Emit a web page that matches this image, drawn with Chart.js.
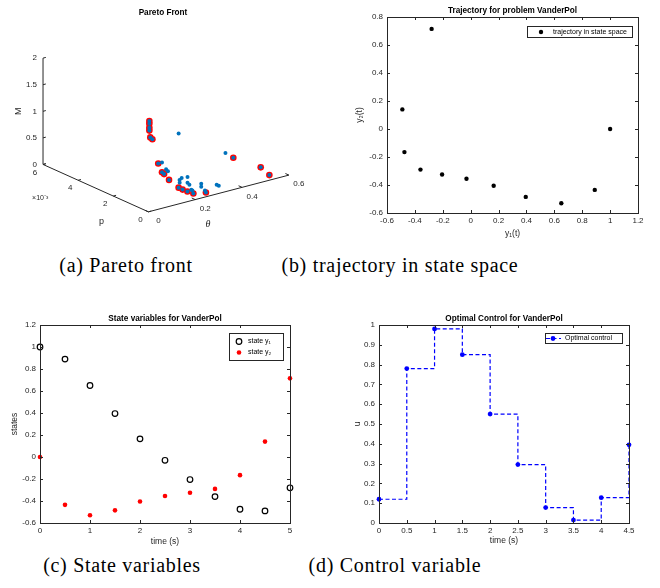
<!DOCTYPE html>
<html>
<head>
<meta charset="utf-8">
<script src="https://cdn.jsdelivr.net/npm/chart.js@4.4.1/dist/chart.umd.min.js"></script>
<style>
  body { margin: 0; background: #fff; width: 660px; height: 588px; position: relative; overflow: hidden; }
  canvas { position: absolute; }
  .cap { position: absolute; font-family: "Liberation Serif", serif; font-size: 20px; letter-spacing: 0.7px;
         color: #000; transform: translate(-50%, -50%); white-space: nowrap; }
</style>
</head>
<body>
<canvas id="pa" width="330" height="240" style="left:0;top:0"></canvas>
<canvas id="pb" width="330" height="240" style="left:330px;top:0"></canvas>
<canvas id="pc" width="330" height="240" style="left:0;top:310px"></canvas>
<canvas id="pd" width="330" height="240" style="left:330px;top:310px"></canvas>
<div class="cap" style="left:126px;top:265px">(a) Pareto front</div>
<div class="cap" style="left:400px;top:265px">(b) trajectory in state space</div>
<div class="cap" style="left:122px;top:565px">(c) State variables</div>
<div class="cap" style="left:395px;top:565px">(d) Control variable</div>
<script>
// ---- data ----

// pareto front (a): theta, p (in units of 1e-3) and M for each solution
// solutions that are on the front (red rings)
var frontTheta = [0.079, 0.079, 0.079, 0.079, 0.083, 0.092, 0.102, 0.118, 0.127, 0.133, 0.159, 0.176, 0.189, 0.207, 0.253, 0.370, 0.487, 0.524];
var frontP     = [1.0, 1.0, 1.0, 1.0, 1.0, 1.0, 0.8, 0.8, 0.8, 0.6, 0.4, 0.4, 0.3, 0.2, 0.1, 0.1, 0.1, 0.1];
var frontM     = [1.470, 1.415, 1.342, 1.288, 1.156, 1.110, 0.673, 0.491, 0.445, 0.358, 0.212, 0.156, 0.120, 0.078, 0.057, 0.577, 0.261, 0.073];
// the other solutions (blue only)
var otherTheta = [0.204, 0.133, 0.143, 0.151, 0.193, 0.202, 0.186, 0.227, 0.212, 0.220, 0.213, 0.218, 0.263, 0.263, 0.264, 0.314, 0.323, 0.344];
var otherP     = [1.0, 1.0, 0.9, 0.9, 0.8, 0.8, 0.7, 0.8, 0.6, 0.6, 0.4, 0.4, 0.5, 0.5, 0.3, 0.3, 0.3, 0.2];
var otherM     = [1.089, 0.625, 0.502, 0.456, 0.259, 0.285, 0.228, 0.275, 0.213, 0.167, 0.113, 0.090, 0.151, 0.096, 0.051, 0.103, 0.075, 0.683];
var thetaTicks = [0, 0.2, 0.4, 0.6];
var pTicks = [0, 2, 4, 6];
var mTicks = [0, 0.5, 1, 1.5, 2];

// VanderPol states (b, c) and control (d)
var tStates = [0, 0.5, 1, 1.5, 2, 2.5, 3, 3.5, 4, 4.5, 5];
var y1 = [1, 0.89, 0.65, 0.395, 0.165, -0.03, -0.205, -0.36, -0.475, -0.49, -0.28];
var y2 = [0, -0.435, -0.53, -0.485, -0.405, -0.355, -0.325, -0.29, -0.165, 0.14, 0.715];
var tControl = [0, 0.5, 1, 1.5, 2, 2.5, 3, 3.5, 4, 4.5];
var uControl = [0.12, 0.78, 0.98, 0.85, 0.55, 0.295, 0.078, 0.015, 0.128, 0.395];

var bXTicks = [-0.6, -0.4, -0.2, 0, 0.2, 0.4, 0.6, 0.8, 1, 1.2];
var bYTicks = [-0.6, -0.4, -0.2, 0, 0.2, 0.4, 0.6, 0.8];
var cXTicks = [0, 1, 2, 3, 4, 5];
var cYTicks = [-0.6, -0.4, -0.2, 0, 0.2, 0.4, 0.6, 0.8, 1, 1.2];
var dXTicks = [0, 0.5, 1, 1.5, 2, 2.5, 3, 3.5, 4, 4.5];
var dYTicks = [0, 0.1, 0.2, 0.3, 0.4, 0.5, 0.6, 0.7, 0.8, 0.9, 1];

var AXIS = '#262626';
var SANS = '"Liberation Sans", Arial, sans-serif';

function pts(xs, ys) {
  return xs.map(function(x, i) { return { x: x, y: ys[i] }; });
}

function marker(ctx, ds, x, y) {
  ctx.beginPath();
  ctx.arc(x, y, ds.pointRadius, 0, Math.PI * 2);
  ctx.fillStyle = ds.pointBackgroundColor;
  ctx.fill();
  if (ds.pointBorderWidth) {
    ctx.lineWidth = ds.pointBorderWidth;
    ctx.strokeStyle = ds.pointBorderColor;
    ctx.stroke();
  }
}

// matlab style box: frame, inward ticks on all sides, title and a boxed legend
var matlabBox = {
  id: 'matlabBox',
  afterDraw: function(chart, args, opts) {
    var ctx = chart.ctx, a = chart.chartArea;
    var xs = chart.scales.x, ys = chart.scales.y;
    ctx.save();
    ctx.strokeStyle = AXIS;
    ctx.lineWidth = 1;
    ctx.beginPath();
    xs.ticks.forEach(function(t) {
      var px = Math.round(xs.getPixelForValue(t.value)) + 0.5;
      ctx.moveTo(px, a.bottom); ctx.lineTo(px, a.bottom - 3);
      ctx.moveTo(px, a.top); ctx.lineTo(px, a.top + 3);
    });
    ys.ticks.forEach(function(t) {
      var py = Math.round(ys.getPixelForValue(t.value)) + 0.5;
      ctx.moveTo(a.left, py); ctx.lineTo(a.left + 3, py);
      ctx.moveTo(a.right, py); ctx.lineTo(a.right - 3, py);
    });
    ctx.stroke();
    ctx.strokeRect(Math.round(a.left) + 0.5, Math.round(a.top) + 0.5,
                   Math.round(a.right - a.left), Math.round(a.bottom - a.top));

    ctx.fillStyle = '#000';
    ctx.font = 'bold 8.2px ' + SANS;
    ctx.textAlign = 'center';
    ctx.textBaseline = 'middle';
    ctx.fillText(opts.title, (a.left + a.right) / 2, a.top - 6);

    // legend
    var lg = opts.legend, sets = chart.data.datasets;
    var h = sets.length * lg.rowH + 2 * lg.pad;
    var x0 = Math.round(a.right - lg.right - lg.width), y0 = Math.round(a.top + lg.top);
    ctx.fillStyle = '#fff';
    ctx.fillRect(x0, y0, lg.width, h);
    ctx.strokeStyle = AXIS;
    ctx.lineWidth = 1;
    ctx.strokeRect(x0 + 0.5, y0 + 0.5, lg.width, h);
    ctx.font = '7px ' + SANS;
    ctx.textAlign = 'left';
    sets.forEach(function(ds, i) {
      var cy = y0 + lg.pad + lg.rowH * (i + 0.5) + 0.5;
      if (ds.showLine) {
        ctx.save();
        ctx.strokeStyle = ds.borderColor;
        ctx.lineWidth = ds.borderWidth;
        ctx.setLineDash(ds.borderDash);
        ctx.beginPath();
        ctx.moveTo(x0 + lg.lineFrom, cy); ctx.lineTo(x0 + lg.lineTo, cy);
        ctx.stroke();
        ctx.restore();
      }
      marker(ctx, ds, x0 + lg.markerX, cy);
      ctx.fillStyle = '#000';
      ctx.fillText(ds.label, x0 + lg.textX, cy);
    });
    ctx.restore();
  }
};

function linAxis(ticksArr, pos, size, titleText, titlePad) {
  return {
    type: 'linear',
    position: pos,
    min: ticksArr[0],
    max: ticksArr[ticksArr.length - 1],
    grid: { display: false, drawTicks: false },
    border: { display: false },
    afterBuildTicks: function(s) { s.ticks = ticksArr.map(function(v) { return { value: v }; }); },
    afterFit: function(s) { if (pos === 'left') s.width = size; else s.height = size; },
    ticks: {
      color: AXIS, font: { family: SANS, size: 8 },
      padding: pos === 'left' ? 4 : 3,
      autoSkip: false, maxRotation: 0,
      callback: function(v) { return String(v); }
    },
    title: { display: true, text: titleText, color: AXIS, font: { family: SANS, size: 8.5 }, padding: titlePad }
  };
}

function baseOptions(pad, xAxis, yAxis, box) {
  return {
    responsive: false, animation: false, events: [],
    layout: { padding: pad },
    plugins: { legend: { display: false }, tooltip: { enabled: false }, matlabBox: box },
    scales: { x: xAxis, y: yAxis }
  };
}

// ---- (b) trajectory in state space ----
new Chart(document.getElementById('pb'), {
  type: 'scatter',
  data: { datasets: [{
    label: 'trajectory in state space', data: pts(y1, y2), clip: false,
    pointRadius: 2.2, pointBackgroundColor: '#000', pointBorderColor: '#000', pointBorderWidth: 0
  }] },
  options: baseOptions({ left: 0, top: 17, right: 22, bottom: 0 },
    linAxis(bXTicks, 'bottom', 27, 'y\u2081(t)', { top: 0, bottom: 1.6 }),
    linAxis(bYTicks, 'left', 57, 'y\u2082(t)', { top: 24.6, bottom: 0 }),
    { title: 'Trajectory for problem VanderPol',
      legend: { right: 6, top: 9, width: 105, rowH: 11, pad: 0, markerX: 14, textX: 26 } }),
  plugins: [matlabBox]
});

// ---- (c) state variables ----
new Chart(document.getElementById('pc'), {
  type: 'scatter',
  data: { datasets: [{
    label: 'state y\u2081', data: pts(tStates, y1), clip: false,
    pointRadius: 2.8, pointBackgroundColor: 'rgba(0,0,0,0)', pointBorderColor: '#000', pointBorderWidth: 1.2
  }, {
    label: 'state y\u2082', data: pts(tStates, y2), clip: false,
    pointRadius: 2.3, pointBackgroundColor: '#ff0000', pointBorderColor: '#ff0000', pointBorderWidth: 0
  }] },
  options: baseOptions({ left: 0, top: 15, right: 40, bottom: 0 },
    linAxis(cXTicks, 'bottom', 27, 'time (s)', { top: 0, bottom: 3 }),
    linAxis(cYTicks, 'left', 40, 'states', { top: 9.6, bottom: 0 }),
    { title: 'State variables for VanderPol',
      legend: { right: 7, top: 8, width: 54, rowH: 11, pad: 2.5, markerX: 10, textX: 19 } }),
  plugins: [matlabBox]
});

// ---- (d) optimal control, piecewise constant ----
new Chart(document.getElementById('pd'), {
  type: 'scatter',
  data: { datasets: [{
    label: 'Optimal control', data: pts(tControl, uControl), clip: false,
    showLine: true, stepped: true,
    borderColor: '#0000ff', borderWidth: 1.2, borderDash: [4, 2.5],
    pointRadius: 2.4, pointBackgroundColor: '#0000ff', pointBorderColor: '#0000ff', pointBorderWidth: 0
  }] },
  options: baseOptions({ left: 0, top: 15, right: 31, bottom: 0 },
    linAxis(dXTicks, 'bottom', 27, 'time (s)', { top: 0, bottom: 4.6 }),
    linAxis(dYTicks, 'left', 49, 'u', { top: 22.6, bottom: 0 }),
    { title: 'Optimal Control for VanderPol',
      legend: { right: 7, top: 8, width: 77, rowH: 10, pad: 0, markerX: 8, textX: 20, lineFrom: 1, lineTo: 16 } }),
  plugins: [matlabBox]
});

// ---- (a) pareto front, 3d view projected onto the canvas ----
// where the axis ends land on screen (theta 0..0.6, p 0..6e-3, M 0..2)
var view = { ox: 148, oy: 215, th: [144, -38, 0.6], p: [-108, -49, 6], m: [0, -110, 2] };
function proj(th, p, m) {
  return {
    x: view.ox + th / view.th[2] * view.th[0] + p / view.p[2] * view.p[0] + m / view.m[2] * view.m[0],
    y: view.oy + th / view.th[2] * view.th[1] + p / view.p[2] * view.p[1] + m / view.m[2] * view.m[1]
  };
}
function proj3(ths, ps, ms) {
  return ths.map(function(t, i) { return proj(t, ps[i], ms[i]); });
}

var axes3d = {
  id: 'axes3d',
  beforeDatasetsDraw: function(chart) {
    var ctx = chart.ctx, xs = chart.scales.x, ys = chart.scales.y;
    function px(q) { return { x: xs.getPixelForValue(q.x), y: ys.getPixelForValue(q.y) }; }
    function seg(q1, q2) {
      var a = px(q1), b = px(q2);
      ctx.moveTo(a.x, a.y); ctx.lineTo(b.x, b.y);
    }
    function label(txt, q, dx, dy, align) {
      var a = px(q);
      ctx.textAlign = align || 'center';
      ctx.fillText(txt, a.x + dx, a.y + dy);
    }
    ctx.save();
    ctx.strokeStyle = AXIS;
    ctx.lineWidth = 1;
    ctx.beginPath();
    seg(proj(0, 0, 0), proj(0.6, 0, 0));
    seg(proj(0, 0, 0), proj(0, 6, 0));
    seg(proj(0, 6, 0), proj(0, 6, 2));
    // small ticks
    thetaTicks.forEach(function(t) { seg(proj(t, 0, 0), proj(t, 0.2, 0)); });
    pTicks.forEach(function(p) { seg(proj(0, p, 0), proj(0.012, p, 0)); });
    mTicks.forEach(function(m) { seg(proj(0, 6, m), proj(0.012, 6, m)); });
    ctx.stroke();

    ctx.fillStyle = AXIS;
    ctx.textBaseline = 'middle';
    ctx.font = '8px ' + SANS;
    thetaTicks.forEach(function(t) { label(String(t), proj(t, 0, 0), 10, 9); });
    pTicks.forEach(function(p) { label(String(p), proj(0, p, 0), -8, 8); });
    mTicks.forEach(function(m) { label(String(m), proj(0, 6, m), -6, 0, 'right'); });
    ctx.font = '7px ' + SANS;
    label('\u00d710\u207b\u00b3', proj(0, 4, 0), -38, 18);
    ctx.font = '9px ' + SANS;
    label('p', proj(0, 2.5, 0), -3, 29);
    ctx.font = 'italic 10px "Liberation Serif", serif';
    label('\u03b8', proj(0.25, 0, 0), 1, 28);
    var mp = px(proj(0, 6, 1));
    ctx.save();
    ctx.font = '9px ' + SANS;
    ctx.translate(mp.x - 25, mp.y);
    ctx.rotate(-Math.PI / 2);
    ctx.textAlign = 'center';
    ctx.fillText('M', 0, 0);
    ctx.restore();

    ctx.fillStyle = '#000';
    ctx.font = 'bold 8.2px ' + SANS;
    ctx.textAlign = 'center';
    ctx.fillText('Pareto Front', 163, 13);
    ctx.restore();
  }
};

new Chart(document.getElementById('pa'), {
  type: 'scatter',
  data: { datasets: [{
    // every solution, blue dot on top
    label: 'solutions', clip: false,
    data: proj3(frontTheta.concat(otherTheta), frontP.concat(otherP), frontM.concat(otherM)),
    pointRadius: 2, pointBackgroundColor: '#0072bd', pointBorderWidth: 0
  }, {
    label: 'front', clip: false,
    data: proj3(frontTheta, frontP, frontM),
    pointRadius: 3.3, pointBackgroundColor: '#ff0000', pointBorderWidth: 0
  }] },
  options: {
    responsive: false, animation: false, events: [],
    layout: { padding: 0 },
    plugins: { legend: { display: false }, tooltip: { enabled: false } },
    scales: {
      x: { type: 'linear', min: 0, max: 330, display: false },
      y: { type: 'linear', min: 0, max: 240, reverse: true, display: false }
    }
  },
  plugins: [axes3d]
});
</script>
</body>
</html>
